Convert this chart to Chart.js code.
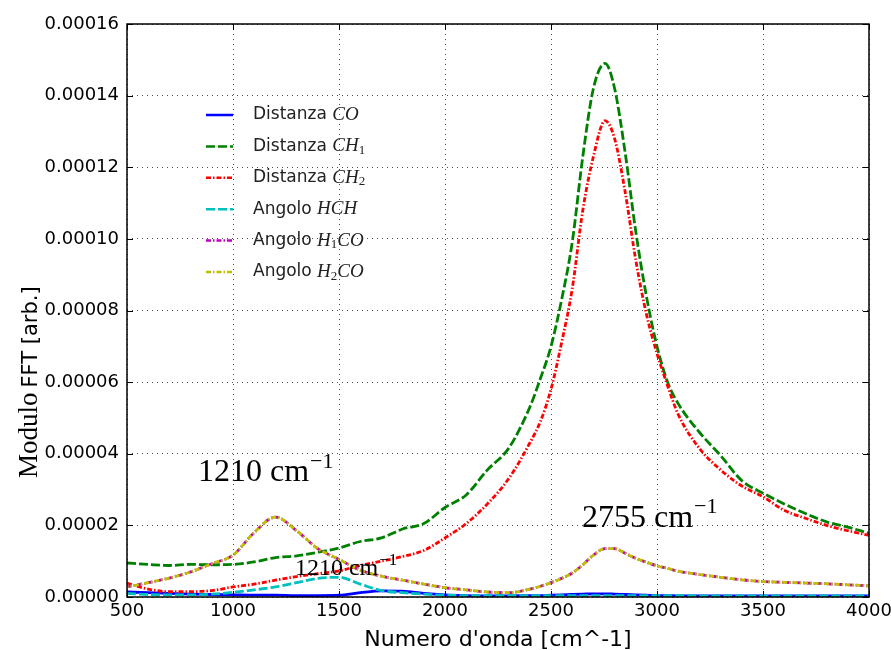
<!DOCTYPE html>
<html>
<head>
<meta charset="utf-8">
<script src="https://cdn.jsdelivr.net/npm/chart.js@4/dist/chart.umd.min.js"></script>
<style>
  html, body { margin: 0; padding: 0; background: #fff; }
</style>
</head>
<body>
<canvas id="chart-fft" width="891" height="650"></canvas>
<script>
// values, in units of 1e-5
const UNIT = 1e-5;
const wavenumbers = [500, 600, 700, 800, 900, 1000, 1100, 1200, 1300, 1400, 1500, 1600, 1700, 1800, 1900, 2000, 2100, 2200, 2300, 2400,
  2450, 2500, 2550, 2600, 2650, 2700, 2755, 2800, 2850, 2900, 2950, 3000, 3050, 3100,
  3200, 3300, 3400, 3500, 3600, 3700, 3800, 3900, 4000];

const distCO = [0.14, 0.12, 0.10, 0.08, 0.07, 0.06, 0.05, 0.05, 0.04, 0.04, 0.05, 0.12, 0.17, 0.16, 0.10, 0.06, 0.04, 0.03, 0.03, 0.04,
  0.04, 0.05, 0.06, 0.07, 0.08, 0.09, 0.09, 0.08, 0.07, 0.06, 0.05, 0.04, 0.04, 0.03,
  0.03, 0.03, 0.03, 0.03, 0.03, 0.03, 0.03, 0.03, 0.03];
const distCH1 = [0.95, 0.91, 0.88, 0.91, 0.90, 0.91, 0.98, 1.10, 1.15, 1.25, 1.37, 1.55, 1.65, 1.90, 2.05, 2.50, 2.85, 3.55, 4.15, 5.30,
  6.10, 7.00, 8.30, 9.90, 12.30, 14.20, 14.90, 14.20, 12.40, 10.20, 8.40, 7.00, 6.00, 5.40,
  4.60, 3.95, 3.25, 2.90, 2.60, 2.33, 2.10, 1.95, 1.78];
const distCH2 = [0.39, 0.22, 0.15, 0.15, 0.18, 0.28, 0.36, 0.47, 0.57, 0.65, 0.73, 0.88, 1.00, 1.13, 1.30, 1.65, 2.05, 2.60, 3.30, 4.30,
  4.90, 5.80, 7.10, 8.60, 10.80, 12.30, 13.30, 12.80, 11.30, 9.40, 7.90, 6.80, 5.90, 5.10,
  4.15, 3.55, 3.10, 2.80, 2.42, 2.20, 2.00, 1.85, 1.72];
const angHCH = [0.10, 0.07, 0.06, 0.06, 0.08, 0.13, 0.20, 0.28, 0.40, 0.52, 0.55, 0.36, 0.18, 0.12, 0.08, 0.05, 0.04, 0.04, 0.04, 0.04,
  0.04, 0.04, 0.04, 0.04, 0.04, 0.04, 0.04, 0.04, 0.04, 0.04, 0.04, 0.04, 0.04, 0.04,
  0.03, 0.03, 0.03, 0.03, 0.03, 0.03, 0.03, 0.03, 0.03];
const angH1CO = [0.28, 0.40, 0.53, 0.70, 0.93, 1.17, 1.80, 2.23, 1.85, 1.35, 1.05, 0.75, 0.58, 0.47, 0.36, 0.26, 0.20, 0.14, 0.12, 0.22,
  0.30, 0.40, 0.52, 0.67, 0.90, 1.17, 1.35, 1.35, 1.22, 1.08, 0.97, 0.87, 0.80, 0.72,
  0.63, 0.55, 0.48, 0.43, 0.41, 0.39, 0.37, 0.34, 0.31];
const angH2CO = [0.28, 0.40, 0.53, 0.70, 0.93, 1.17, 1.80, 2.23, 1.85, 1.35, 1.05, 0.75, 0.58, 0.47, 0.36, 0.26, 0.20, 0.14, 0.12, 0.22,
  0.30, 0.40, 0.52, 0.67, 0.90, 1.17, 1.35, 1.35, 1.22, 1.08, 0.97, 0.87, 0.80, 0.72,
  0.63, 0.55, 0.48, 0.43, 0.41, 0.39, 0.37, 0.34, 0.31];

const legendWords = ['Distanza', 'Distanza', 'Distanza', 'Angolo', 'Angolo', 'Angolo'];
const legendSymbols = ['CO', 'CH_1', 'CH_2', 'HCH', 'H_1CO', 'H_2CO'];
const seriesColors = ['#0000ff', '#008000', '#ff0000', '#00bfbf', '#bf00bf', '#bfbf00'];
const seriesDashes = [[], [9, 3], [5, 2, 1.5, 2], [9, 3], [5, 2, 1.5, 2], [5, 2, 1.5, 2]];
const seriesValues = [distCO, distCH1, distCH2, angHCH, angH1CO, angH2CO];

const xTicks = [500, 1000, 1500, 2000, 2500, 3000, 3500, 4000];
const yTicks = [0, 0.00002, 0.00004, 0.00006, 0.00008, 0.0001, 0.00012, 0.00014, 0.00016];

const peakNotes = [
  { label: '1210', x: 835, y: 3.24, size: 32 },
  { label: '1210', x: 1292, y: 0.61, size: 24 },
  { label: '2755', x: 2646, y: 1.96, size: 32 },
];

const SANS = "'DejaVu Sans', sans-serif";
const SERIF = "'Liberation Serif', 'DejaVu Serif', serif";

// draws e.g. "H_1CO" as italic letters with upright subscript digits
const drawSymbol = (ctx, text, x, y, size) => {
  let cx = x;
  const parts = text.split(/(_\d)/).filter(Boolean);
  parts.forEach((p) => {
    if (p.startsWith('_')) {
      ctx.font = `${Math.round(size * 0.7)}px ${SERIF}`;
      ctx.fillText(p.slice(1), cx, y + size * 0.22);
      cx += ctx.measureText(p.slice(1)).width;
    } else {
      ctx.font = `italic ${size}px ${SERIF}`;
      ctx.fillText(p, cx, y);
      cx += ctx.measureText(p).width;
    }
  });
  return cx;
};

const drawWavenumber = (ctx, label, x, y, size) => {
  ctx.font = `${size}px ${SERIF}`;
  const base = `${label} cm`;
  ctx.fillText(base, x, y);
  const w = ctx.measureText(base).width;
  ctx.font = `${Math.round(size * 0.7)}px ${SERIF}`;
  ctx.fillText('\u22121', x + w + 1, y - size * 0.42);
};

const decorPlugin = {
  id: 'decor',
  afterDraw(chart) {
    const { ctx, chartArea: a, scales: { x, y } } = chart;
    ctx.save();
    ctx.setLineDash([]);
    ctx.strokeStyle = '#000';
    ctx.lineWidth = 1;
    const seg = (x1, y1, x2, y2) => { ctx.beginPath(); ctx.moveTo(x1, y1); ctx.lineTo(x2, y2); ctx.stroke(); };
    x.ticks.forEach((t) => {
      const px = Math.round(x.getPixelForValue(t.value)) + 0.5;
      seg(px, a.bottom, px, a.bottom - 6);
      seg(px, a.top, px, a.top + 6);
    });
    y.ticks.forEach((t) => {
      const py = Math.round(y.getPixelForValue(t.value)) + 0.5;
      seg(a.left, py, a.left + 6, py);
      seg(a.right, py, a.right - 6, py);
    });
    ctx.lineWidth = 1.5;
    ctx.strokeRect(a.left, a.top, a.right - a.left, a.bottom - a.top);

    // legend, no frame
    ctx.textBaseline = 'middle';
    ctx.textAlign = 'left';
    chart.data.datasets.forEach((ds, i) => {
      const ry = a.top + 91 + i * 31.4;
      ctx.strokeStyle = ds.borderColor;
      ctx.lineWidth = 2.5;
      ctx.setLineDash(ds.borderDash);
      seg(a.left + 79, ry, a.left + 106, ry);
      ctx.setLineDash([]);
      ctx.fillStyle = '#222';
      ctx.font = `17px ${SANS}`;
      ctx.fillText(legendWords[i], a.left + 126, ry);
      const w = ctx.measureText(legendWords[i] + ' ').width;
      drawSymbol(ctx, legendSymbols[i], a.left + 126 + w, ry, 19);
    });

    // peak labels
    ctx.fillStyle = '#000';
    ctx.textBaseline = 'alphabetic';
    peakNotes.forEach((n) => {
      drawWavenumber(ctx, n.label, x.getPixelForValue(n.x), y.getPixelForValue(n.y * UNIT), n.size);
    });

    // axis titles
    ctx.font = `22px ${SANS}`;
    ctx.textAlign = 'center';
    ctx.fillText("Numero d'onda [cm^-1]", (a.left + a.right) / 2, 646);

    ctx.save();
    ctx.translate(37, 478);
    ctx.rotate(-Math.PI / 2);
    ctx.textAlign = 'left';
    ctx.font = `27px ${SERIF}`;
    ctx.fillText('Modulo', 0, 0);
    const mw = ctx.measureText('Modulo').width;
    ctx.font = `21px ${SANS}`;
    ctx.fillText('FFT [arb.]', mw + 5, 0);
    ctx.restore();
    ctx.restore();
  },
};

const canvas = document.getElementById('chart-fft');
const ctx = canvas.getContext('2d');

const chart = new Chart(ctx, {
  type: 'line',
  data: {
    datasets: seriesValues.map((vals, i) => ({
      label: `${legendWords[i]} ${legendSymbols[i].replace(/_/g, '')}`,
      data: vals.map((v, k) => ({ x: wavenumbers[k], y: v * UNIT })),
      borderColor: seriesColors[i],
      borderDash: seriesDashes[i],
      borderDashOffset: i === 5 ? 3.5 : 0,
      borderWidth: 2.8,
      pointRadius: 0,
      fill: false,
      cubicInterpolationMode: 'monotone',
      order: 5 - i,
    })),
  },
  options: {
    responsive: false,
    animation: false,
    devicePixelRatio: 1,
    layout: { padding: { top: 24, right: 22, left: 0, bottom: 0 } },
    plugins: { legend: { display: false }, tooltip: { enabled: false } },
    scales: {
      x: {
        type: 'linear',
        min: 500,
        max: 4000,
        afterFit: (s) => { s.height = 53; s.paddingLeft = 0; s.paddingRight = 0; },
        afterBuildTicks: (s) => { s.ticks = xTicks.map((v) => ({ value: v })); },
        ticks: {
          font: { family: SANS, size: 18 },
          color: '#000',
          padding: 4,
          maxRotation: 0,
          autoSkip: false,
          callback: (value) => String(value),
        },
        grid: { color: 'rgba(0,0,0,0.7)', lineWidth: 1, drawTicks: false },
        border: { display: false, dash: [1, 4] },
      },
      y: {
        min: 0,
        max: 0.00016,
        afterFit: (s) => { s.width = 127; s.paddingTop = 0; s.paddingBottom = 0; },
        afterBuildTicks: (s) => { s.ticks = yTicks.map((v) => ({ value: v })); },
        ticks: {
          font: { family: SANS, size: 18 },
          color: '#000',
          padding: 8,
          callback: (value) => Number(value).toFixed(5),
        },
        grid: { color: 'rgba(0,0,0,0.7)', lineWidth: 1, drawTicks: false },
        border: { display: false, dash: [1, 4] },
      },
    },
  },
  plugins: [decorPlugin],
});
</script>
</body>
</html>
